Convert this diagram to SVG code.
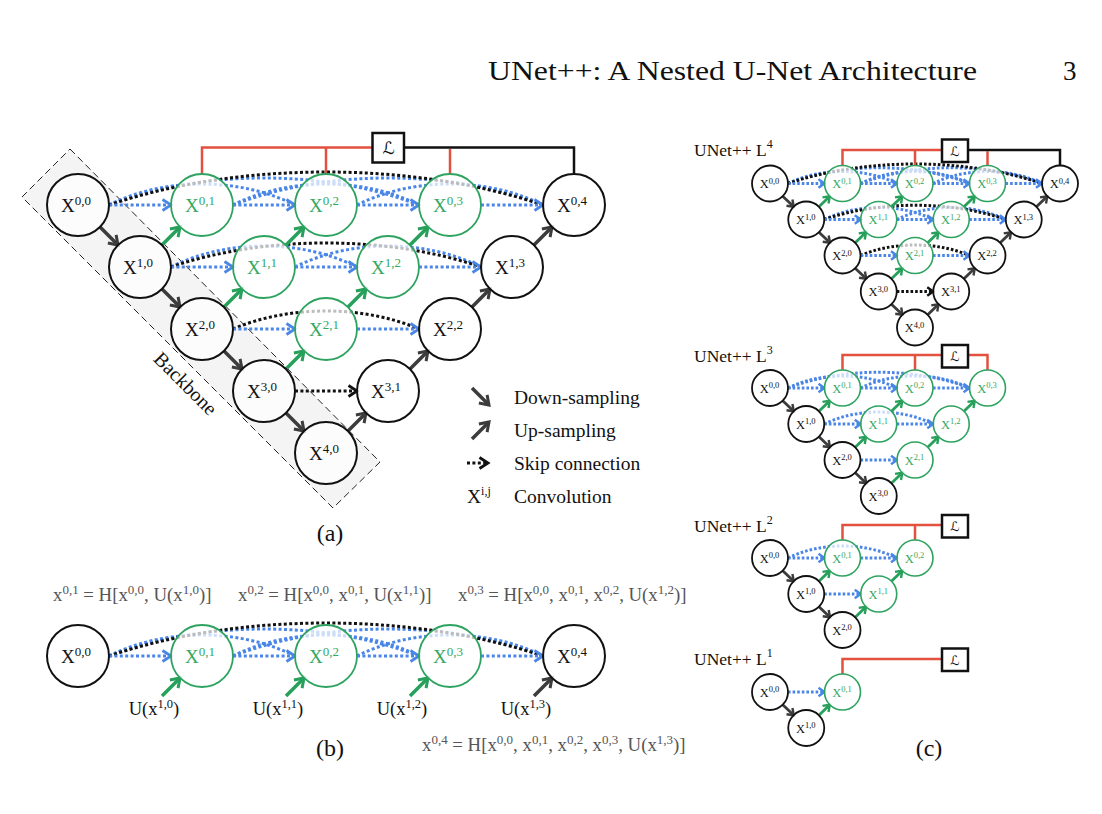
<svg xmlns="http://www.w3.org/2000/svg" width="1102" height="814" viewBox="0 0 1102 814">
<style>
.t{font-family:'Liberation Serif','Times New Roman',serif;fill:#111}
.nk{fill:#fff;fill-opacity:.72;stroke:#111;stroke-width:2}
.ng{fill:#fff;fill-opacity:.72;stroke:#2ea35f;stroke-width:1.8}
.nk2{fill:#fff;fill-opacity:.72;stroke:#111;stroke-width:1.8}
.ng2{fill:#fff;fill-opacity:.72;stroke:#2ea35f;stroke-width:1.6}
.lk,.lg,.lk2,.lg2{font-family:'Liberation Serif','Times New Roman',serif;text-anchor:middle}
.lk{font-size:19px;fill:#111}
.lg{font-size:19px;fill:#35a862}
.lk2{font-size:12.5px;fill:#111}
.lg2{font-size:12.5px;fill:#35a862}
.sp{font-size:13px}
.sp2{font-size:8.5px}
.dn,.uk{fill:none;stroke:#3c3c3c;stroke-width:3.5;marker-end:url(#mk)}
.ug{fill:none;stroke:#26a05b;stroke-width:3.5;marker-end:url(#mg)}
.sb{fill:none;stroke:#4a86e8;stroke-width:3;stroke-dasharray:3 2.4}
.sa{marker-end:url(#mb)}
.bd{fill:none;stroke:#111;stroke-width:3;stroke-dasharray:3 2.4}
.ba{marker-end:url(#mx)}
.dn2,.uk2{fill:none;stroke:#3c3c3c;stroke-width:2.8;marker-end:url(#mk2)}
.ug2{fill:none;stroke:#26a05b;stroke-width:2.8;marker-end:url(#mg2)}
.sb2{fill:none;stroke:#4a86e8;stroke-width:3;stroke-dasharray:2.6 2}
.sa2{marker-end:url(#mb2)}
.bd2{fill:none;stroke:#111;stroke-width:3;stroke-dasharray:2.6 2}
.ba2{marker-end:url(#mx2)}
.red{fill:none;stroke:#e2513f;stroke-width:2.5}
.blk{fill:none;stroke:#111;stroke-width:2.5}
.box{fill:#fff;stroke:#111;stroke-width:2.5}
.loss{font-family:'DejaVu Serif','DejaVu Sans',serif;font-style:italic;text-anchor:middle;fill:#111}
.fm{font-family:'Liberation Serif','Times New Roman',serif;font-size:18.8px;fill:#555}
.fs{font-size:13px}
</style>
<defs>
<marker id="mk" viewBox="-11 -8 15 16" refX="0" refY="0" markerWidth="15" markerHeight="16" markerUnits="userSpaceOnUse" orient="auto"><path d="M-8.5,-5.8L0,0L-8.5,5.8" fill="none" stroke="#3c3c3c" stroke-width="3"/></marker>
<marker id="mg" viewBox="-11 -8 15 16" refX="0" refY="0" markerWidth="15" markerHeight="16" markerUnits="userSpaceOnUse" orient="auto"><path d="M-8.5,-5.8L0,0L-8.5,5.8" fill="none" stroke="#26a05b" stroke-width="3"/></marker>
<marker id="mb" viewBox="-11 -8 15 16" refX="0" refY="0" markerWidth="15" markerHeight="16" markerUnits="userSpaceOnUse" orient="auto"><path d="M-8.5,-5.5L0,0L-8.5,5.5" fill="none" stroke="#4a86e8" stroke-width="2.8"/></marker>
<marker id="mx" viewBox="-11 -8 15 16" refX="0" refY="0" markerWidth="15" markerHeight="16" markerUnits="userSpaceOnUse" orient="auto"><path d="M-8.5,-5.5L0,0L-8.5,5.5" fill="none" stroke="#111" stroke-width="2.8"/></marker>
<marker id="mk2" viewBox="-8 -6 11 12" refX="0" refY="0" markerWidth="11" markerHeight="12" markerUnits="userSpaceOnUse" orient="auto"><path d="M-6,-4.3L0,0L-6,4.3" fill="none" stroke="#3c3c3c" stroke-width="2.4"/></marker>
<marker id="mg2" viewBox="-8 -6 11 12" refX="0" refY="0" markerWidth="11" markerHeight="12" markerUnits="userSpaceOnUse" orient="auto"><path d="M-6,-4.3L0,0L-6,4.3" fill="none" stroke="#26a05b" stroke-width="2.4"/></marker>
<marker id="mb2" viewBox="-8 -6 11 12" refX="0" refY="0" markerWidth="11" markerHeight="12" markerUnits="userSpaceOnUse" orient="auto"><path d="M-6,-4.3L0,0L-6,4.3" fill="none" stroke="#4a86e8" stroke-width="2.4"/></marker>
<marker id="mx2" viewBox="-8 -6 11 12" refX="0" refY="0" markerWidth="11" markerHeight="12" markerUnits="userSpaceOnUse" orient="auto"><path d="M-6,-4.3L0,0L-6,4.3" fill="none" stroke="#111" stroke-width="2.4"/></marker>
</defs>
<rect width="1102" height="814" fill="#fff"/>

<!-- page header -->
<text class="t" x="488" y="80" font-size="27" textLength="489" lengthAdjust="spacingAndGlyphs">UNet++: A Nested U-Net Architecture</text>
<text class="t" x="1063" y="80" font-size="27">3</text>

<!-- (a) backbone band -->
<g id="backbone">
<polygon points="70,149 380,462 333,508 22,197" fill="#f4f4f4" stroke="#222" stroke-width="1" stroke-dasharray="7 4"/>
<text class="t" x="185" y="390" font-size="20" text-anchor="middle" transform="rotate(45 185 384)">Backbone</text>
</g>

<!-- (a) connectors -->
<g id="a-connectors">
<path class="sb" d="M109,205C164.8,177 239.2,177 295,205"/>
<path class="sb" d="M109,205C202,169 326,169 419,205"/>
<path class="sb" d="M233,205C288.8,177 363.2,177 419,205"/>
<path class="sb" d="M233,205C326,169 450,169 543,205"/>
<path class="sb" d="M357,205C412.8,177 487.2,177 543,205"/>
<path class="sb" d="M171,267C226.8,239 301.2,239 357,267"/>
<path class="sb" d="M295,267C350.8,239 425.2,239 481,267"/>
<path class="bd" d="M109,205C239.2,161 412.8,161 543,205"/>
<path class="bd" d="M171,267C264,235 388,235 481,267"/>
<path class="bd" d="M233,329C288.8,305 363.2,305 419,329"/>
<path class="sb sa" d="M109,205H171"/>
<path class="sb sa" d="M233,205H295"/>
<path class="sb sa" d="M357,205H419"/>
<path class="sb sa" d="M481,205H543"/>
<path class="sb sa" d="M171,267H233"/>
<path class="sb sa" d="M295,267H357"/>
<path class="sb sa" d="M419,267H481"/>
<path class="sb sa" d="M233,329H295"/>
<path class="sb sa" d="M357,329H419"/>
<path class="bd ba" d="M295,391H357"/>
<path class="dn" d="M100,227L118,245"/>
<path class="dn" d="M162,289L180,307"/>
<path class="dn" d="M224,351L242,369"/>
<path class="dn" d="M286,413L304,431"/>
<path class="ug" d="M162,245L180,227"/>
<path class="ug" d="M286,245L304,227"/>
<path class="ug" d="M410,245L428,227"/>
<path class="ug" d="M224,307L242,289"/>
<path class="ug" d="M348,307L366,289"/>
<path class="ug" d="M286,369L304,351"/>
<path class="uk" d="M534,245L552,227"/>
<path class="uk" d="M472,307L490,289"/>
<path class="uk" d="M410,369L428,351"/>
<path class="uk" d="M348,431L366,413"/>
<path class="red" d="M202,174V147.5H372.5"/>
<path class="red" d="M326,174V147.5"/>
<path class="red" d="M450,174V149"/>
<path class="blk" d="M404,147.5H574V174"/>
</g>

<!-- (a) nodes -->
<g id="a-loss"><rect class="box" x="372.5" y="133" width="31.5" height="29.5"/><text class="loss" x="388.5" y="154" font-size="17">ℒ</text></g>
<g id="a-x00"><circle class="nk" cx="78" cy="205" r="31"/><text class="lk" x="76" y="212">X<tspan class="sp" dy="-7">0,0</tspan></text></g>
<g id="a-x01"><circle class="ng" cx="202" cy="205" r="31"/><text class="lg" x="200" y="212">X<tspan class="sp" dy="-7">0,1</tspan></text></g>
<g id="a-x02"><circle class="ng" cx="326" cy="205" r="31"/><text class="lg" x="324" y="212">X<tspan class="sp" dy="-7">0,2</tspan></text></g>
<g id="a-x03"><circle class="ng" cx="450" cy="205" r="31"/><text class="lg" x="448" y="212">X<tspan class="sp" dy="-7">0,3</tspan></text></g>
<g id="a-x04"><circle class="nk" cx="574" cy="205" r="31"/><text class="lk" x="572" y="212">X<tspan class="sp" dy="-7">0,4</tspan></text></g>
<g id="a-x10"><circle class="nk" cx="140" cy="267" r="31"/><text class="lk" x="138" y="274">X<tspan class="sp" dy="-7">1,0</tspan></text></g>
<g id="a-x11"><circle class="ng" cx="264" cy="267" r="31"/><text class="lg" x="262" y="274">X<tspan class="sp" dy="-7">1,1</tspan></text></g>
<g id="a-x12"><circle class="ng" cx="388" cy="267" r="31"/><text class="lg" x="386" y="274">X<tspan class="sp" dy="-7">1,2</tspan></text></g>
<g id="a-x13"><circle class="nk" cx="512" cy="267" r="31"/><text class="lk" x="510" y="274">X<tspan class="sp" dy="-7">1,3</tspan></text></g>
<g id="a-x20"><circle class="nk" cx="202" cy="329" r="31"/><text class="lk" x="200" y="336">X<tspan class="sp" dy="-7">2,0</tspan></text></g>
<g id="a-x21"><circle class="ng" cx="326" cy="329" r="31"/><text class="lg" x="324" y="336">X<tspan class="sp" dy="-7">2,1</tspan></text></g>
<g id="a-x22"><circle class="nk" cx="450" cy="329" r="31"/><text class="lk" x="448" y="336">X<tspan class="sp" dy="-7">2,2</tspan></text></g>
<g id="a-x30"><circle class="nk" cx="264" cy="391" r="31"/><text class="lk" x="262" y="398">X<tspan class="sp" dy="-7">3,0</tspan></text></g>
<g id="a-x31"><circle class="nk" cx="388" cy="391" r="31"/><text class="lk" x="386" y="398">X<tspan class="sp" dy="-7">3,1</tspan></text></g>
<g id="a-x40"><circle class="nk" cx="326" cy="453" r="31"/><text class="lk" x="324" y="460">X<tspan class="sp" dy="-7">4,0</tspan></text></g>

<!-- (a) legend -->
<g id="legend">
<path class="dn" d="M472,388L489,405"/>
<path class="dn" d="M472,439L489,422"/>
<path class="bd ba" d="M467,463H488"/>
<text class="t" x="467" y="503" font-size="19.5">X<tspan font-size="12" dy="-8">i,j</tspan></text>
<text class="t" x="514" y="404" font-size="19.5">Down-sampling</text>
<text class="t" x="514" y="437" font-size="19.5">Up-sampling</text>
<text class="t" x="514" y="470" font-size="19.5">Skip connection</text>
<text class="t" x="514" y="503" font-size="19.5">Convolution</text>
</g>
<text class="t" x="330" y="541" font-size="24" text-anchor="middle">(a)</text>

<!-- (b) formulas -->
<g id="b-formulas">
<text class="fm" x="53" y="601">x<tspan class="fs" dy="-7">0,1</tspan><tspan dy="7"> = H[x</tspan><tspan class="fs" dy="-7">0,0</tspan><tspan dy="7">, U(x</tspan><tspan class="fs" dy="-7">1,0</tspan><tspan dy="7">)]</tspan></text>
<text class="fm" x="238" y="601">x<tspan class="fs" dy="-7">0,2</tspan><tspan dy="7"> = H[x</tspan><tspan class="fs" dy="-7">0,0</tspan><tspan dy="7">, x</tspan><tspan class="fs" dy="-7">0,1</tspan><tspan dy="7">, U(x</tspan><tspan class="fs" dy="-7">1,1</tspan><tspan dy="7">)]</tspan></text>
<text class="fm" x="458" y="601">x<tspan class="fs" dy="-7">0,3</tspan><tspan dy="7"> = H[x</tspan><tspan class="fs" dy="-7">0,0</tspan><tspan dy="7">, x</tspan><tspan class="fs" dy="-7">0,1</tspan><tspan dy="7">, x</tspan><tspan class="fs" dy="-7">0,2</tspan><tspan dy="7">, U(x</tspan><tspan class="fs" dy="-7">1,2</tspan><tspan dy="7">)]</tspan></text>
<text class="fm" x="422" y="751">x<tspan class="fs" dy="-7">0,4</tspan><tspan dy="7"> = H[x</tspan><tspan class="fs" dy="-7">0,0</tspan><tspan dy="7">, x</tspan><tspan class="fs" dy="-7">0,1</tspan><tspan dy="7">, x</tspan><tspan class="fs" dy="-7">0,2</tspan><tspan dy="7">, x</tspan><tspan class="fs" dy="-7">0,3</tspan><tspan dy="7">, U(x</tspan><tspan class="fs" dy="-7">1,3</tspan><tspan dy="7">)]</tspan></text>
</g>

<!-- (b) connectors -->
<g id="b-connectors">
<path class="sb" d="M109,656C164.8,628 239.2,628 295,656"/>
<path class="sb" d="M109,656C202,620 326,620 419,656"/>
<path class="sb" d="M233,656C288.8,628 363.2,628 419,656"/>
<path class="sb" d="M233,656C326,620 450,620 543,656"/>
<path class="sb" d="M357,656C412.8,628 487.2,628 543,656"/>
<path class="bd" d="M109,656C239.2,612 412.8,612 543,656"/>
<path class="sb sa" d="M109,656H171"/>
<path class="sb sa" d="M233,656H295"/>
<path class="sb sa" d="M357,656H419"/>
<path class="sb sa" d="M481,656H543"/>
<path class="ug" d="M162,696L180,678"/>
<path class="ug" d="M286,696L304,678"/>
<path class="ug" d="M410,696L428,678"/>
<path class="uk" d="M534,696L552,678"/>
</g>

<!-- (b) nodes -->
<g id="b-x00"><circle class="nk" cx="78" cy="656" r="31"/><text class="lk" x="76" y="663">X<tspan class="sp" dy="-7">0,0</tspan></text></g>
<g id="b-x01"><circle class="ng" cx="202" cy="656" r="31"/><text class="lg" x="200" y="663">X<tspan class="sp" dy="-7">0,1</tspan></text></g>
<g id="b-x02"><circle class="ng" cx="326" cy="656" r="31"/><text class="lg" x="324" y="663">X<tspan class="sp" dy="-7">0,2</tspan></text></g>
<g id="b-x03"><circle class="ng" cx="450" cy="656" r="31"/><text class="lg" x="448" y="663">X<tspan class="sp" dy="-7">0,3</tspan></text></g>
<g id="b-x04"><circle class="nk" cx="574" cy="656" r="31"/><text class="lk" x="572" y="663">X<tspan class="sp" dy="-7">0,4</tspan></text></g>
<g id="b-inputs" class="t" font-size="18.5" text-anchor="middle">
<text x="154" y="715">U(x<tspan font-size="12.5" dy="-7">1,0</tspan><tspan dy="7">)</tspan></text>
<text x="278" y="715">U(x<tspan font-size="12.5" dy="-7">1,1</tspan><tspan dy="7">)</tspan></text>
<text x="402" y="715">U(x<tspan font-size="12.5" dy="-7">1,2</tspan><tspan dy="7">)</tspan></text>
<text x="526" y="715">U(x<tspan font-size="12.5" dy="-7">1,3</tspan><tspan dy="7">)</tspan></text>
</g>
<text class="t" x="330" y="756" font-size="24" text-anchor="middle">(b)</text>

<!-- (c) titles -->
<g class="t" font-size="17.5">
<text x="694" y="156">UNet++ L<tspan font-size="12" dy="-8">4</tspan></text>
<text x="694" y="362">UNet++ L<tspan font-size="12" dy="-8">3</tspan></text>
<text x="694" y="532">UNet++ L<tspan font-size="12" dy="-8">2</tspan></text>
<text x="694" y="665">UNet++ L<tspan font-size="12" dy="-8">1</tspan></text>
</g>
<text class="t" x="929" y="756" font-size="24" text-anchor="middle">(c)</text>

<!-- (c) L4 connectors -->
<g id="c4-connectors">
<path class="sb2" d="M788,183.5C820.7,167.5 864.3,167.5 897,183.5"/>
<path class="sb2" d="M788,183.5C842.5,162.5 915,162.5 969.5,183.5"/>
<path class="sb2" d="M860.5,183.5C893.2,167.5 936.8,167.5 969.5,183.5"/>
<path class="sb2" d="M860.5,183.5C915,162.5 987.5,162.5 1042,183.5"/>
<path class="sb2" d="M933,183.5C965.7,167.5 1009.3,167.5 1042,183.5"/>
<path class="sb2" d="M824.25,219.5C856.95,203.5 900.55,203.5 933.25,219.5"/>
<path class="sb2" d="M896.75,219.5C929.45,203.5 973.05,203.5 1005.75,219.5"/>
<path class="bd2" d="M788,183.5C864.2,157.5 965.8,157.5 1042,183.5"/>
<path class="bd2" d="M824.25,219.5C878.7,200.5 951.3,200.5 1005.75,219.5"/>
<path class="bd2" d="M860.5,255.5C893.2,241.5 936.8,241.5 969.5,255.5"/>
<path class="sb2 sa2" d="M788,183.5H824.5"/>
<path class="sb2 sa2" d="M860.5,183.5H897"/>
<path class="sb2 sa2" d="M933,183.5H969.5"/>
<path class="sb2 sa2" d="M1005.5,183.5H1042"/>
<path class="sb2 sa2" d="M824.25,219.5H860.75"/>
<path class="sb2 sa2" d="M896.75,219.5H933.25"/>
<path class="sb2 sa2" d="M969.25,219.5H1005.75"/>
<path class="sb2 sa2" d="M860.5,255.5H897"/>
<path class="sb2 sa2" d="M933,255.5H969.5"/>
<path class="bd2 ba2" d="M896.75,291.5H933.25"/>
<path class="dn2" d="M782.7,196.2L793.8,206.8"/>
<path class="dn2" d="M818.95,232.2L830.05,242.8"/>
<path class="dn2" d="M855.2,268.2L866.3,278.8"/>
<path class="dn2" d="M891.45,304.2L902.55,314.8"/>
<path class="ug2" d="M818.95,206.8L829.8,196.2"/>
<path class="ug2" d="M891.45,206.8L902.3,196.2"/>
<path class="ug2" d="M963.95,206.8L974.8,196.2"/>
<path class="ug2" d="M855.2,242.8L866.05,232.2"/>
<path class="ug2" d="M927.7,242.8L938.55,232.2"/>
<path class="ug2" d="M891.45,278.8L902.3,268.2"/>
<path class="uk2" d="M1036.45,206.8L1047.3,196.2"/>
<path class="uk2" d="M1000.2,242.8L1011.05,232.2"/>
<path class="uk2" d="M963.95,278.8L974.8,268.2"/>
<path class="uk2" d="M927.7,314.8L938.55,304.2"/>
<path class="red" d="M842.5,165.5V150H942"/>
<path class="red" d="M915,165.5V150"/>
<path class="red" d="M987.5,165.5V151.3"/>
<path class="blk" d="M968,150H1060V165.5"/>
</g>
<g id="c4-loss"><rect class="box" x="942" y="139.5" width="26" height="22.5"/><text class="loss" x="955" y="155.5" font-size="13">ℒ</text></g>
<g id="c4-x00"><circle class="nk2" cx="770" cy="183.5" r="18"/><text class="lk2" x="769.5" y="188">X<tspan class="sp2" dy="-4.5">0,0</tspan></text></g>
<g id="c4-x01"><circle class="ng2" cx="842.5" cy="183.5" r="18"/><text class="lg2" x="842" y="188">X<tspan class="sp2" dy="-4.5">0,1</tspan></text></g>
<g id="c4-x02"><circle class="ng2" cx="915" cy="183.5" r="18"/><text class="lg2" x="914.5" y="188">X<tspan class="sp2" dy="-4.5">0,2</tspan></text></g>
<g id="c4-x03"><circle class="ng2" cx="987.5" cy="183.5" r="18"/><text class="lg2" x="987" y="188">X<tspan class="sp2" dy="-4.5">0,3</tspan></text></g>
<g id="c4-x04"><circle class="nk2" cx="1060" cy="183.5" r="18"/><text class="lk2" x="1059.5" y="188">X<tspan class="sp2" dy="-4.5">0,4</tspan></text></g>
<g id="c4-x10"><circle class="nk2" cx="806.25" cy="219.5" r="18"/><text class="lk2" x="805.75" y="224">X<tspan class="sp2" dy="-4.5">1,0</tspan></text></g>
<g id="c4-x11"><circle class="ng2" cx="878.75" cy="219.5" r="18"/><text class="lg2" x="878.25" y="224">X<tspan class="sp2" dy="-4.5">1,1</tspan></text></g>
<g id="c4-x12"><circle class="ng2" cx="951.25" cy="219.5" r="18"/><text class="lg2" x="950.75" y="224">X<tspan class="sp2" dy="-4.5">1,2</tspan></text></g>
<g id="c4-x13"><circle class="nk2" cx="1023.75" cy="219.5" r="18"/><text class="lk2" x="1023.25" y="224">X<tspan class="sp2" dy="-4.5">1,3</tspan></text></g>
<g id="c4-x20"><circle class="nk2" cx="842.5" cy="255.5" r="18"/><text class="lk2" x="842" y="260">X<tspan class="sp2" dy="-4.5">2,0</tspan></text></g>
<g id="c4-x21"><circle class="ng2" cx="915" cy="255.5" r="18"/><text class="lg2" x="914.5" y="260">X<tspan class="sp2" dy="-4.5">2,1</tspan></text></g>
<g id="c4-x22"><circle class="nk2" cx="987.5" cy="255.5" r="18"/><text class="lk2" x="987" y="260">X<tspan class="sp2" dy="-4.5">2,2</tspan></text></g>
<g id="c4-x30"><circle class="nk2" cx="878.75" cy="291.5" r="18"/><text class="lk2" x="878.25" y="296">X<tspan class="sp2" dy="-4.5">3,0</tspan></text></g>
<g id="c4-x31"><circle class="nk2" cx="951.25" cy="291.5" r="18"/><text class="lk2" x="950.75" y="296">X<tspan class="sp2" dy="-4.5">3,1</tspan></text></g>
<g id="c4-x40"><circle class="nk2" cx="915" cy="327.5" r="18"/><text class="lk2" x="914.5" y="332">X<tspan class="sp2" dy="-4.5">4,0</tspan></text></g>

<!-- (c) L3 -->
<g id="c3-connectors">
<path class="sb2" d="M788,388C820.7,372 864.3,372 897,388"/>
<path class="sb2" d="M860.5,388C893.2,372 936.8,372 969.5,388"/>
<path class="sb2" d="M788,388C842.5,367 915,367 969.5,388"/>
<path class="sb2" d="M824.25,424C856.95,408 900.55,408 933.25,424"/>
<path class="sb2 sa2" d="M788,388H824.5"/>
<path class="sb2 sa2" d="M860.5,388H897"/>
<path class="sb2 sa2" d="M933,388H969.5"/>
<path class="sb2 sa2" d="M824.25,424H860.75"/>
<path class="sb2 sa2" d="M896.75,424H933.25"/>
<path class="sb2 sa2" d="M860.5,460H897"/>
<path class="dn2" d="M782.7,400.7L793.8,411.3"/>
<path class="dn2" d="M818.95,436.7L830.05,447.3"/>
<path class="dn2" d="M855.2,472.7L866.3,483.3"/>
<path class="ug2" d="M818.95,411.3L829.8,400.7"/>
<path class="ug2" d="M891.45,411.3L902.3,400.7"/>
<path class="ug2" d="M963.95,411.3L974.8,400.7"/>
<path class="ug2" d="M855.2,447.3L866.05,436.7"/>
<path class="ug2" d="M927.7,447.3L938.55,436.7"/>
<path class="ug2" d="M891.45,483.3L902.3,472.7"/>
<path class="red" d="M842.5,370V355H942"/>
<path class="red" d="M915,370V355"/>
<path class="red" d="M968,355H987.5V370"/>
</g>
<g id="c3-loss"><rect class="box" x="942" y="345" width="26" height="22.5"/><text class="loss" x="955" y="361" font-size="13">ℒ</text></g>
<g id="c3-x00"><circle class="nk2" cx="770" cy="388" r="18"/><text class="lk2" x="769.5" y="392.5">X<tspan class="sp2" dy="-4.5">0,0</tspan></text></g>
<g id="c3-x01"><circle class="ng2" cx="842.5" cy="388" r="18"/><text class="lg2" x="842" y="392.5">X<tspan class="sp2" dy="-4.5">0,1</tspan></text></g>
<g id="c3-x02"><circle class="ng2" cx="915" cy="388" r="18"/><text class="lg2" x="914.5" y="392.5">X<tspan class="sp2" dy="-4.5">0,2</tspan></text></g>
<g id="c3-x03"><circle class="ng2" cx="987.5" cy="388" r="18"/><text class="lg2" x="987" y="392.5">X<tspan class="sp2" dy="-4.5">0,3</tspan></text></g>
<g id="c3-x10"><circle class="nk2" cx="806.25" cy="424" r="18"/><text class="lk2" x="805.75" y="428.5">X<tspan class="sp2" dy="-4.5">1,0</tspan></text></g>
<g id="c3-x11"><circle class="ng2" cx="878.75" cy="424" r="18"/><text class="lg2" x="878.25" y="428.5">X<tspan class="sp2" dy="-4.5">1,1</tspan></text></g>
<g id="c3-x12"><circle class="ng2" cx="951.25" cy="424" r="18"/><text class="lg2" x="950.75" y="428.5">X<tspan class="sp2" dy="-4.5">1,2</tspan></text></g>
<g id="c3-x20"><circle class="nk2" cx="842.5" cy="460" r="18"/><text class="lk2" x="842" y="464.5">X<tspan class="sp2" dy="-4.5">2,0</tspan></text></g>
<g id="c3-x21"><circle class="ng2" cx="915" cy="460" r="18"/><text class="lg2" x="914.5" y="464.5">X<tspan class="sp2" dy="-4.5">2,1</tspan></text></g>
<g id="c3-x30"><circle class="nk2" cx="878.75" cy="496" r="18"/><text class="lk2" x="878.25" y="500.5">X<tspan class="sp2" dy="-4.5">3,0</tspan></text></g>

<!-- (c) L2 -->
<g id="c2-connectors">
<path class="sb2" d="M788,558C820.7,542 864.3,542 897,558"/>
<path class="sb2 sa2" d="M788,558H824.5"/>
<path class="sb2 sa2" d="M860.5,558H897"/>
<path class="sb2 sa2" d="M824.25,594H860.75"/>
<path class="dn2" d="M782.7,570.7L793.8,581.3"/>
<path class="dn2" d="M818.95,606.7L830.05,617.3"/>
<path class="ug2" d="M818.95,581.3L829.8,570.7"/>
<path class="ug2" d="M891.45,581.3L902.3,570.7"/>
<path class="ug2" d="M855.2,617.3L866.05,606.7"/>
<path class="red" d="M842.5,540V525H942"/>
<path class="red" d="M915,540V525"/>
</g>
<g id="c2-loss"><rect class="box" x="942" y="515" width="26" height="22.5"/><text class="loss" x="955" y="531" font-size="13">ℒ</text></g>
<g id="c2-x00"><circle class="nk2" cx="770" cy="558" r="18"/><text class="lk2" x="769.5" y="562.5">X<tspan class="sp2" dy="-4.5">0,0</tspan></text></g>
<g id="c2-x01"><circle class="ng2" cx="842.5" cy="558" r="18"/><text class="lg2" x="842" y="562.5">X<tspan class="sp2" dy="-4.5">0,1</tspan></text></g>
<g id="c2-x02"><circle class="ng2" cx="915" cy="558" r="18"/><text class="lg2" x="914.5" y="562.5">X<tspan class="sp2" dy="-4.5">0,2</tspan></text></g>
<g id="c2-x10"><circle class="nk2" cx="806.25" cy="594" r="18"/><text class="lk2" x="805.75" y="598.5">X<tspan class="sp2" dy="-4.5">1,0</tspan></text></g>
<g id="c2-x11"><circle class="ng2" cx="878.75" cy="594" r="18"/><text class="lg2" x="878.25" y="598.5">X<tspan class="sp2" dy="-4.5">1,1</tspan></text></g>
<g id="c2-x20"><circle class="nk2" cx="842.5" cy="630" r="18"/><text class="lk2" x="842" y="634.5">X<tspan class="sp2" dy="-4.5">2,0</tspan></text></g>

<!-- (c) L1 -->
<g id="c1-connectors">
<path class="sb2 sa2" d="M788,692H824.5"/>
<path class="dn2" d="M782.7,704.7L793.8,715.3"/>
<path class="ug2" d="M818.95,715.3L829.8,704.7"/>
<path class="red" d="M842.5,674V659H942"/>
</g>
<g id="c1-loss"><rect class="box" x="942" y="648.5" width="26" height="22.5"/><text class="loss" x="955" y="664.5" font-size="13">ℒ</text></g>
<g id="c1-x00"><circle class="nk2" cx="770" cy="692" r="18"/><text class="lk2" x="769.5" y="696.5">X<tspan class="sp2" dy="-4.5">0,0</tspan></text></g>
<g id="c1-x01"><circle class="ng2" cx="842.5" cy="692" r="18"/><text class="lg2" x="842" y="696.5">X<tspan class="sp2" dy="-4.5">0,1</tspan></text></g>
<g id="c1-x10"><circle class="nk2" cx="806.25" cy="728" r="18"/><text class="lk2" x="805.75" y="732.5">X<tspan class="sp2" dy="-4.5">1,0</tspan></text></g>
</svg>
